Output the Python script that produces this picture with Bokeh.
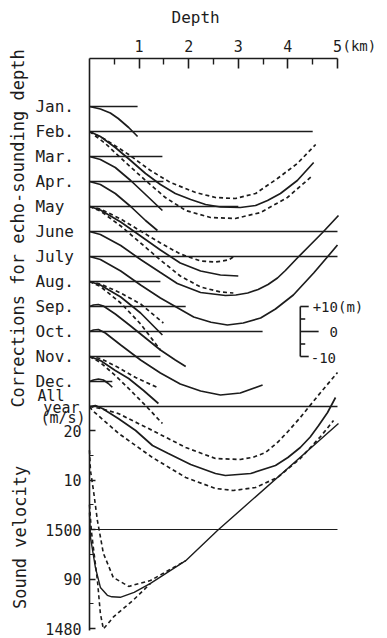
import numpy as np
from bokeh.plotting import figure
from bokeh.models import Range1d, LinearAxis, FixedTicker, Label
from bokeh.embed import file_html
from bokeh.resources import INLINE

FONT = "DejaVu Sans Mono"
INK = "#1c1c1c"

# ---------------- data: echo-sounding corrections (depth km, correction m) --------
rows = ["Jan.", "Feb.", "Mar.", "Apr.", "May", "June", "July", "Aug.",
        "Sep.", "Oct.", "Nov.", "Dec.", "All year"]
row_line_end_km = [0.97, 4.50, 1.47, 1.49, 3.00, 5.00, 5.00, 1.43, 1.94, 3.49, 1.43, 0.46, 5.00]

jan_d = [0, 0.22, 0.42, 0.58, 0.79, 0.97]
jan_c = [0, -1.0, -2.6, -4.8, -8.4, -12.0]

feb_d = [0, 0.22, 0.52, 0.83, 1.13, 1.43, 1.73, 2.04, 2.34, 2.64, 3.04, 3.35, 3.59, 3.85, 4.19, 4.52]
feb_c = [0, -2.0, -6.4, -11.6, -16.8, -21.2, -24.8, -27.2, -29.2, -30.2, -30.4, -29.6, -27.6, -24.8, -19.6, -12.4]
feb_up_d = [0, 0.32, 0.79, 1.23, 1.63, 2.14, 2.54, 2.94, 3.35, 3.79, 4.19, 4.56]
feb_up_c = [0, -3.2, -9.2, -15.6, -20.4, -24.4, -26.4, -26.8, -24.8, -18.8, -12.8, -5.2]
feb_lo_d = [0, 0.32, 0.73, 1.13, 1.53, 1.94, 2.44, 2.94, 3.45, 3.99, 4.50]
feb_lo_c = [0, -4.8, -12.4, -19.6, -26.4, -31.6, -34.4, -34.8, -32.4, -26.4, -17.6]

mar_d = [0, 0.22, 0.52, 0.83, 1.13, 1.47]
mar_c = [0, -1.2, -4.4, -9.6, -15.2, -21.6]

apr_d = [0, 0.22, 0.52, 0.83, 1.13, 1.37]
apr_c = [0, -1.2, -4.8, -10.0, -15.6, -19.6]

may_d = [0, 0.22, 0.63, 1.03, 1.43, 1.83, 2.24, 2.64, 3.00]
may_c = [0, -1.4, -6.2, -11.8, -17.4, -22.6, -25.8, -27.4, -27.8]
may_up_d = [0, 0.22, 0.63, 1.03, 1.43, 1.83, 2.24, 2.54, 2.80, 2.90]
may_up_c = [0, -1.0, -5.0, -9.8, -14.6, -19.0, -21.8, -22.2, -21.4, -20.2]
may_lo_d = [0, 0.22, 0.63, 1.03, 1.43, 1.83, 2.24, 2.64, 2.90]
may_lo_c = [0, -1.8, -7.8, -14.6, -21.4, -27.8, -32.2, -34.2, -34.6]

jun_d = [0, 0.22, 0.63, 1.03, 1.43, 1.77, 2.24, 2.74, 2.95, 3.19, 3.40, 3.60, 3.79, 3.95, 4.19, 4.45, 4.70, 5.02]
jun_c = [0, -1.2, -5.6, -11.2, -16.4, -20.8, -24.4, -25.6, -25.4, -24.6, -23.2, -21.2, -18.6, -15.6, -10.6, -5.4, -0.4, 6.4]

jul_d = [0, 0.22, 0.63, 1.03, 1.43, 2.10, 2.45, 2.78, 3.10, 3.45, 3.75, 4.11, 4.52, 4.80, 5.00]
jul_c = [0, -1.2, -5.8, -11.4, -16.6, -24.2, -26.3, -27.4, -26.6, -24.6, -21.0, -15.4, -6.6, -0.1, 4.6]

aug_d = [0, 0.22, 0.63, 1.03, 1.47]
aug_c = [0, -1.4, -6.2, -12.6, -21.4]
aug_up_d = [0, 0.22, 0.63, 1.03, 1.49]
aug_up_c = [0, -1.0, -4.6, -9.0, -16.6]
aug_lo_d = [0, 0.22, 0.63, 1.03, 1.43]
aug_lo_c = [0, -2.0, -8.6, -17.0, -27.4]

sep_d = [0, 0.08, 0.18, 0.28, 0.52, 0.83, 1.13, 1.43, 1.73, 1.94]
sep_c = [0, 0.6, 0.8, 0.2, -3.0, -7.8, -12.6, -17.4, -21.4, -24.0]

oct_d = [0, 0.08, 0.18, 0.32, 0.63, 1.03, 1.43, 1.83, 2.24, 2.64, 3.04, 3.49]
oct_c = [0, 0.6, 0.8, -0.6, -5.4, -11.4, -16.6, -21.0, -23.8, -25.4, -24.6, -21.4]

nov_d = [0, 0.22, 0.52, 0.79, 1.09, 1.39]
nov_c = [0, -1.6, -5.6, -8.8, -13.6, -18.8]
nov_up_d = [0, 0.22, 0.58, 0.93, 1.37]
nov_up_c = [0, -0.8, -4.4, -8.4, -12.4]
nov_lo_d = [0, 0.22, 0.52, 0.83, 1.15, 1.47]
nov_lo_c = [0, -2.4, -7.6, -13.6, -20.0, -26.8]

dec_d = [0, 0.08, 0.18, 0.28, 0.38, 0.46]
dec_c = [0, 0.6, 1.0, 0.6, -0.8, -2.3]

all_d = [0, 0.12, 0.26, 0.58, 0.93, 1.27, 1.59, 2.04, 2.54, 2.74, 3.25, 3.75, 4.00, 4.25, 4.45, 4.62, 4.80, 4.96]
all_c = [0, 0.4, -0.8, -4.8, -9.6, -15.6, -18.8, -23.2, -26.8, -27.6, -26.8, -23.6, -20.4, -16.4, -12.2, -7.6, -2.4, 3.6]
all_up_d = [0, 0.22, 0.58, 1.27, 1.94, 2.54, 3.04, 3.30, 3.55, 3.80, 4.02, 4.25, 4.66, 5.00]
all_up_c = [0, -0.8, -2.8, -9.6, -16.4, -20.8, -21.2, -20.3, -18.4, -14.2, -9.6, -4.4, 5.6, 13.6]
all_lo_d = [0, 0.06, 0.59, 1.27, 1.94, 2.54, 2.90, 3.35, 3.79, 4.25, 4.66, 4.92]
all_lo_c = [0, -1.6, -10.8, -20.4, -28.4, -32.8, -33.6, -32.4, -28.4, -20.8, -12.0, -5.6]

# ---------------- data: sound velocity (depth km, m/s) ----------------
vel_d = [0, 0.02, 0.12, 0.22, 0.36, 0.45, 0.62, 0.90, 1.23, 1.94, 2.58, 5.02]
vel_v = [1503.4, 1498.4, 1492.3, 1488.3, 1486.7, 1486.4, 1486.3, 1487.3, 1489.1, 1493.7, 1499.8, 1521.4]
vel_up_d = [0, 0.02, 0.08, 0.16, 0.28, 0.48, 0.79, 1.23, 1.94]
vel_up_v = [1516.0, 1511.9, 1507.9, 1501.8, 1495.2, 1490.3, 1488.5, 1489.7, 1493.7]
vel_lo_d = [0, 0.04, 0.08, 0.16, 0.22, 0.28, 0.49, 0.89, 1.23]
vel_lo_v = [1505.0, 1499.5, 1496.2, 1489.7, 1483.0, 1479.9, 1482.4, 1485.8, 1489.1]
vel_ref = 1500

depth_ticks = [1, 2, 3, 4, 5]
depth_minor = [0.5, 1.5, 2.5, 3.5, 4.5]
vel_ticks = [1480, 1490, 1500, 1510, 1520]
vel_minor = [1485, 1495, 1505, 1515]
vel_tick_labels = ["1480", "90", "1500", "10", "20"]
scale_vals = [10, 5, 0, -5, -10]

ROW = -10.0  # vertical offset between rows (m)

solid = {0: (jan_d, jan_c), 1: (feb_d, feb_c), 2: (mar_d, mar_c), 3: (apr_d, apr_c),
         4: (may_d, may_c), 5: (jun_d, jun_c), 6: (jul_d, jul_c), 7: (aug_d, aug_c),
         8: (sep_d, sep_c), 9: (oct_d, oct_c), 10: (nov_d, nov_c), 11: (dec_d, dec_c),
         12: (all_d, all_c)}
dashed = {1: [(feb_up_d, feb_up_c), (feb_lo_d, feb_lo_c)],
          4: [(may_up_d, may_up_c), (may_lo_d, may_lo_c)],
          7: [(aug_up_d, aug_up_c), (aug_lo_d, aug_lo_c)],
          10: [(nov_up_d, nov_up_c), (nov_lo_d, nov_lo_c)],
          12: [(all_up_d, all_up_c), (all_lo_d, all_lo_c)]}

# frame covers the whole canvas; axes are pinned inside it
AX_TOP = 19.2          # main-range value of the depth axis line
VEL_AX_TOP = 1595.15   # same height in velocity units

p = figure(width=379, height=638, output_backend="svg", toolbar_location=None,
           x_range=Range1d(-1.794, 5.847), y_range=Range1d(-212.8, 42.4),
           x_axis_location=None, y_axis_location=None,
           min_border_left=0, min_border_right=0, min_border_top=0, min_border_bottom=0)
p.extra_y_ranges = {"vel": Range1d(1477.98, 1606.87)}
p.outline_line_color = None
p.grid.visible = False
p.background_fill_color = "white"
p.border_fill_color = "white"

xa = LinearAxis(ticker=FixedTicker(ticks=depth_ticks, minor_ticks=depth_minor),
                fixed_location=AX_TOP, bounds=(0, 5))
xa.major_tick_in = 10
xa.major_tick_out = 0
xa.minor_tick_in = 6
xa.minor_tick_out = 0
xa.axis_line_width = 1.6
xa.major_tick_line_width = 1.6
xa.minor_tick_line_width = 1.4
xa.axis_line_color = INK
xa.major_tick_line_color = INK
xa.minor_tick_line_color = INK
xa.major_label_standoff = 7
xa.major_label_text_font = FONT
xa.major_label_text_font_size = "15px"
xa.major_label_text_color = INK
p.add_layout(xa, "above")

ya = LinearAxis(y_range_name="vel", fixed_location=0, bounds=(1479.6, VEL_AX_TOP),
                ticker=FixedTicker(ticks=vel_ticks, minor_ticks=vel_minor),
                major_label_overrides={t: s for t, s in zip(vel_ticks, vel_tick_labels)})
ya.major_tick_in = 6
ya.major_tick_out = 0
ya.minor_tick_in = 4
ya.minor_tick_out = 0
ya.axis_line_width = 1.6
ya.major_tick_line_width = 1.4
ya.minor_tick_line_width = 1.2
ya.axis_line_color = INK
ya.major_tick_line_color = INK
ya.minor_tick_line_color = INK
ya.major_label_standoff = 8
ya.major_label_text_font = FONT
ya.major_label_text_font_size = "15px"
ya.major_label_text_color = INK
p.add_layout(ya, "left")

# month baselines
for i, end in enumerate(row_line_end_km):
    y0 = i * ROW
    p.line([0, end], [y0, y0], line_color=INK, line_width=1.3)

for i, (d, c) in solid.items():
    p.line(d, list(np.array(c) + i * ROW), line_color=INK, line_width=1.7)

for i, curves in dashed.items():
    for d, c in curves:
        p.line(d, list(np.array(c) + i * ROW), line_color=INK, line_width=1.7, line_dash="4 3")

# velocity panel
p.line([0, 5], [vel_ref, vel_ref], y_range_name="vel", line_color=INK, line_width=1.2)
p.line(vel_d, vel_v, y_range_name="vel", line_color=INK, line_width=1.4)
p.line(vel_up_d, vel_up_v, y_range_name="vel", line_color=INK, line_width=1.6, line_dash="4 3")
p.line(vel_lo_d, vel_lo_v, y_range_name="vel", line_color=INK, line_width=1.6, line_dash="4 3")

# scale bar for corrections, drawn at the Oct. row
sx = 4.25
sy = 9 * ROW
p.line([sx, sx], [sy + scale_vals[0], sy + scale_vals[-1]], line_color=INK, line_width=1.6)
tick_len = {10: 0.17, 5: 0.10, 0: 0.37, -5: 0.10, -10: 0.17}
for v in scale_vals:
    p.line([sx, sx + tick_len[v]], [sy + v, sy + v], line_color=INK, line_width=1.6)

def lab(text, x, y, align="left", size="16px", angle=0.0, yr="default", base="middle"):
    p.add_layout(Label(x=x, y=y, text=text, text_align=align, text_baseline=base,
                       text_font=FONT, text_font_size=size, text_color=INK,
                       angle=angle, y_range_name=yr))

lab("+10(m)", 4.50, sy + 10, size="14px")
lab("0", 4.84, sy, size="14px")
lab("-10", 4.46, sy - 10.5, size="14px")

for i, name in enumerate(rows[:12]):
    lab(name, -1.09, i * ROW)
lab("All", -1.05, 12 * ROW + 4.4, size="15px")
lab("year", -0.93, 12 * ROW - 0.4, size="15px")
lab("(m/s)", -0.99, 12 * ROW - 4.4, size="15px")

lab("Depth", 2.14, 35.6, align="center")
lab("(km)", 5.10, 24.4, size="14px")
lab("Corrections for echo-sounding depth", -1.45, -48.8, align="center", size="17px", angle=np.pi / 2)
lab("Sound velocity", -1.41, 1498.4, align="center", size="17px", angle=np.pi / 2, yr="vel")

open("out.html", "w").write(file_html(p, INLINE))
